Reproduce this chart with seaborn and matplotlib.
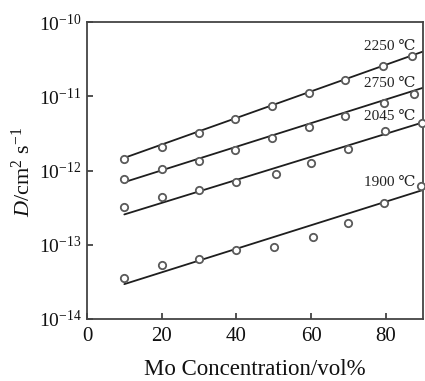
import numpy as np
import pandas as pd
import matplotlib
matplotlib.use("Agg")
import matplotlib.pyplot as plt
import seaborn as sns
from matplotlib.ticker import LogLocator, LogFormatterMathtext, FixedLocator

# ---- data ----
series_names = ["2250 ℃", "2750 ℃", "2045 ℃", "1900 ℃"]

x_2250 = [10, 20, 30, 39.6, 49.5, 59.5, 69.2, 79.2, 87]
d_2250 = [1.41e-12, 2.1e-12, 3.2e-12, 4.9e-12, 7.4e-12, 1.11e-11, 1.64e-11, 2.57e-11, 3.5e-11]

x_2750 = [10, 20, 30, 39.6, 49.5, 59.5, 69.2, 79.5, 87.5]
d_2750 = [7.57e-13, 1.06e-12, 1.33e-12, 1.90e-12, 2.77e-12, 3.81e-12, 5.47e-12, 8.0e-12, 1.07e-11]

x_2045 = [10, 20, 30, 40, 50.5, 60, 70, 79.8, 89.7]
d_2045 = [3.26e-13, 4.44e-13, 5.39e-13, 7.05e-13, 9.0e-13, 1.25e-12, 1.97e-12, 3.44e-12, 4.37e-12]

x_1900 = [10, 20, 30, 40, 50, 60.5, 70, 79.5, 89.5]
d_1900 = [3.58e-14, 5.31e-14, 6.39e-14, 8.44e-14, 9.25e-14, 1.26e-13, 1.99e-13, 3.68e-13, 6.15e-13]

# fitted lines (start and end values)
fit_x = [10, 90]
fit_2250 = [1.48e-12, 4.0e-11]
fit_2750 = [6.97e-13, 1.30e-11]
fit_2045 = [2.56e-13, 4.45e-12]
fit_1900 = [2.95e-14, 5.47e-13]

label_x = [88, 88, 88, 88]
label_y = [4.7e-11, 1.5e-11, 5.4e-12, 6.9e-13]

x_ticks = [0, 20, 40, 60, 80]

# ---- figure ----
sns.set_style("ticks")
plt.rcParams["font.family"] = ["Liberation Serif", "DejaVu Serif"]
plt.rcParams["mathtext.fontset"] = "custom"
plt.rcParams["mathtext.rm"] = "Liberation Serif"
plt.rcParams["mathtext.it"] = "Liberation Serif:italic"

fig = plt.figure(figsize=(4.25, 3.81), dpi=100)
ax = fig.add_axes([87/425, 1 - 319/381, (423 - 87)/425, (319 - 22)/381])

pts = pd.DataFrame({
    "x": x_2250 + x_2750 + x_2045 + x_1900,
    "D": d_2250 + d_2750 + d_2045 + d_1900,
    "T": [series_names[0]]*len(x_2250) + [series_names[1]]*len(x_2750)
         + [series_names[2]]*len(x_2045) + [series_names[3]]*len(x_1900),
})
fits = pd.DataFrame({
    "x": fit_x * 4,
    "D": fit_2250 + fit_2750 + fit_2045 + fit_1900,
    "T": [n for n in series_names for _ in fit_x],
})

line_col = "#1e1e1e"
sns.lineplot(data=fits, x="x", y="D", units="T", estimator=None, color=line_col,
             lw=1.3, ax=ax, legend=False)
sns.scatterplot(data=pts, x="x", y="D", ax=ax, marker="o", s=28,
                facecolor="white", edgecolor="#5a5a5a", linewidth=1.3,
                legend=False, zorder=3, clip_on=False)

for name, lx, ly in zip(series_names, label_x, label_y):
    ax.text(lx, ly, name, ha="right", va="center", fontsize=11, color="#222222")

ax.set_yscale("log")
ax.set_ylim(1e-14, 1e-10)
ax.set_xlim(0, 90)
ax.xaxis.set_major_locator(FixedLocator(x_ticks))
ax.yaxis.set_major_locator(LogLocator(base=10, numticks=10))
ax.yaxis.set_minor_locator(FixedLocator([]))
ax.yaxis.set_major_formatter(LogFormatterMathtext())
ax.tick_params(axis="both", direction="in", length=4, width=1.2,
               colors="#333333", labelcolor="#111111")
ax.tick_params(axis="x", pad=6, labelsize=15)
ax.tick_params(axis="y", pad=4, labelsize=14)
for s in ax.spines.values():
    s.set_visible(True)
    s.set_linewidth(1.3)
    s.set_color("#444444")

ax.set_xlabel("Mo Concentration/vol%", fontsize=16.5, labelpad=9, color="#111111")
ax.set_ylabel(r"$\mathit{D}$/cm$^{2}$ s$^{-1}$", fontsize=16, color="#111111")
ax.yaxis.set_label_coords(-0.155, 0.495)

fig.savefig("out.png", dpi=100)
